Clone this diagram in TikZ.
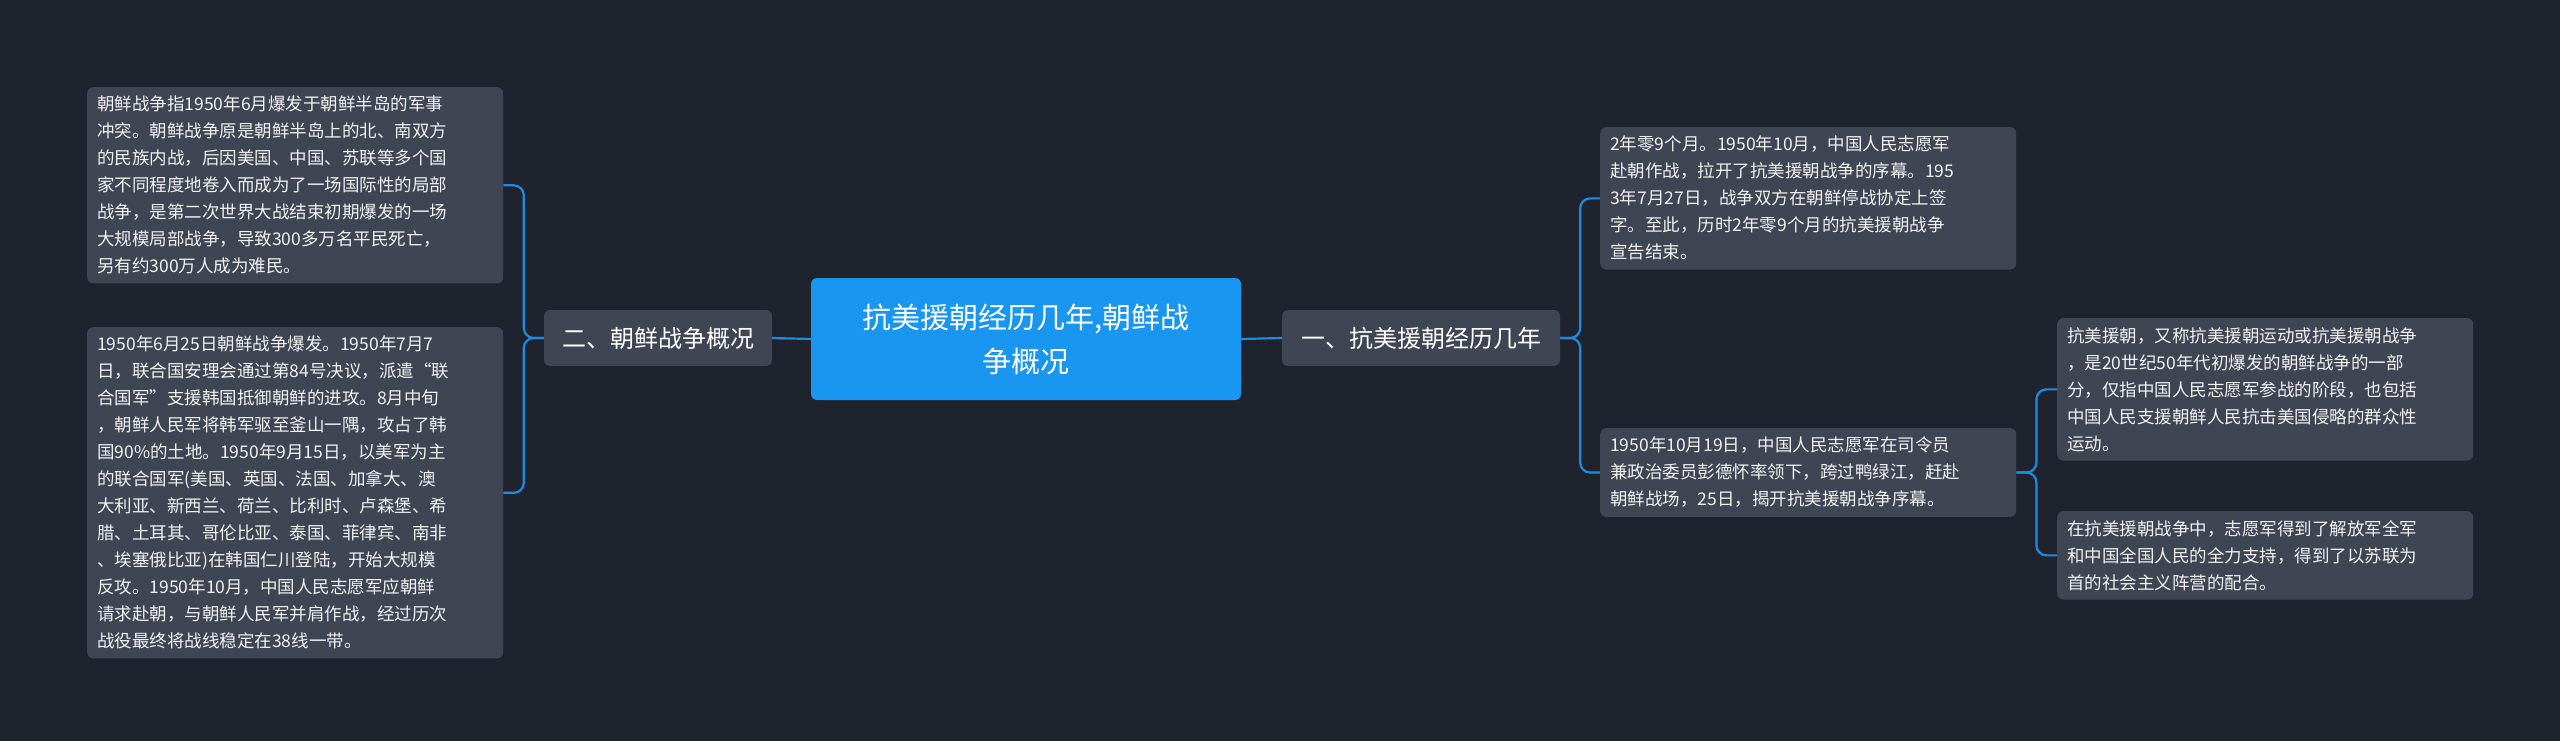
\documentclass[tikz,border=0pt]{standalone}
\usepackage{fontspec}
\setmainfont{Noto Sans CJK SC}
\usetikzlibrary{positioning}
\definecolor{bgc}{RGB}{31,35,46}
\definecolor{leafc}{RGB}{64,69,84}
\definecolor{rootc}{RGB}{24,150,240}
\definecolor{linec}{RGB}{28,140,225}
\tikzset{
  leaf/.style={rectangle, rounded corners=6pt, fill=leafc, text=white!90!gray, font=\fontsize{17.5}{27}\selectfont, align=left, inner xsep=10pt, inner ysep=9pt, minimum width=416pt, text width=396pt, anchor=north west},
  topic/.style={rectangle, rounded corners=6pt, fill=leafc, text=white, font=\fontsize{24}{30}\selectfont, minimum height=56pt},
  link/.style={draw=linec, line width=2.2pt, rounded corners=10pt}
}
\begin{document}
\begin{tikzpicture}[x=1pt, y=-1pt]
    % Background
    \fill[bgc] (0,0) rectangle (2560,741);
    \useasboundingbox (0,0) rectangle (2560,741);

    % Define nodes
    \node (root) [rectangle, rounded corners=6pt, fill=rootc, text=white, font=\fontsize{29}{44}\selectfont, align=center, minimum width=430pt, minimum height=122pt] at (1026,339) {抗美援朝经历几年,朝鲜战\\争概况};
    \node (left) [topic, minimum width=228pt] at (658,338) {二、朝鲜战争概况};
    \node (right) [topic, minimum width=278pt] at (1421,338) {一、抗美援朝经历几年};
    \node (l1) [leaf] at (87,87) {朝鲜战争指1950年6月爆发于朝鲜半岛的军事\\冲突。朝鲜战争原是朝鲜半岛上的北、南双方\\的民族内战，后因美国、中国、苏联等多个国\\家不同程度地卷入而成为了一场国际性的局部\\战争，是第二次世界大战结束初期爆发的一场\\大规模局部战争，导致300多万名平民死亡，\\另有约300万人成为难民。};
    \node (l2) [leaf] at (87,327) {1950年6月25日朝鲜战争爆发。1950年7月7\\日，联合国安理会通过第84号决议，派遣“联\\合国军”支援韩国抵御朝鲜的进攻。8月中旬\\，朝鲜人民军将韩军驱至釜山一隅，攻占了韩\\国90\%的土地。1950年9月15日，以美军为主\\的联合国军(美国、英国、法国、加拿大、澳\\大利亚、新西兰、荷兰、比利时、卢森堡、希\\腊、土耳其、哥伦比亚、泰国、菲律宾、南非\\、埃塞俄比亚)在韩国仁川登陆，开始大规模\\反攻。1950年10月，中国人民志愿军应朝鲜\\请求赴朝，与朝鲜人民军并肩作战，经过历次\\战役最终将战线稳定在38线一带。};
    \node (r1) [leaf] at (1600,127) {2年零9个月。1950年10月，中国人民志愿军\\赴朝作战，拉开了抗美援朝战争的序幕。195\\3年7月27日，战争双方在朝鲜停战协定上签\\字。至此，历时2年零9个月的抗美援朝战争\\宣告结束。};
    \node (r2) [leaf] at (1600,428) {1950年10月19日，中国人民志愿军在司令员\\兼政治委员彭德怀率领下，跨过鸭绿江，赶赴\\朝鲜战场，25日，揭开抗美援朝战争序幕。};
    \node (rr1) [leaf] at (2057,318) {抗美援朝，又称抗美援朝运动或抗美援朝战争\\，是20世纪50年代初爆发的朝鲜战争的一部\\分，仅指中国人民志愿军参战的阶段，也包括\\中国人民支援朝鲜人民抗击美国侵略的群众性\\运动。};
    \node (rr2) [leaf] at (2057,511) {在抗美援朝战争中，志愿军得到了解放军全军\\和中国全国人民的全力支持，得到了以苏联为\\首的社会主义阵营的配合。};

    % Connect nodes
    \draw[link] (root.east) -- (right.west);
    \draw[link] (root.west) -- (left.east);
    \draw[link] (left.west) -- ++(-20,0) |- (l1.east);
    \draw[link] (left.west) -- ++(-20,0) |- (l2.east);
    \draw[link] (right.east) -- ++(20,0) |- (r1.west);
    \draw[link] (right.east) -- ++(20,0) |- (r2.west);
    \draw[link] (r2.east) -- ++(20,0) |- (rr1.west);
    \draw[link] (r2.east) -- ++(20,0) |- (rr2.west);
\end{tikzpicture}
\end{document}
